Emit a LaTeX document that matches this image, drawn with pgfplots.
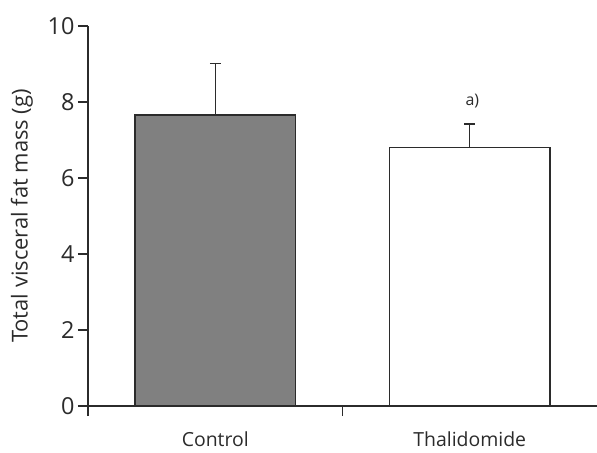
\documentclass[border=0pt]{standalone}
\usepackage{pgfplots}
\pgfplotsset{compat=1.18}
\usepackage{fontspec}
\setmainfont{Open Sans}
\definecolor{axc}{HTML}{2B2B2B}
\definecolor{barg}{HTML}{808080}
\begin{document}
\begin{tikzpicture}
\begin{axis}[
  name=ax,
  scale only axis,
  width=509bp, height=380bp,
  xmin=0.5, xmax=2.5,
  ymin=0, ymax=10,
  axis x line*=bottom, axis y line*=left,
  axis line style={axc, line width=1.3pt, -},
  ytick={0,2,4,6,8,10},
  xtick={0.5,1.5},
  xticklabels={},
  extra x ticks={1,2},
  extra x tick labels={Control,Thalidomide},
  extra x tick style={major tick length=0pt, tick style={draw=none}},
  tick align=outside,
  major tick length=10bp,
  tick style={axc, line width=1.3pt},
  x tick label style={font=\fontsize{19.5}{22}\selectfont, yshift=-22bp, text=axc},
  y tick label style={font=\fontsize{23.5}{26}\selectfont, text=axc},
  /pgf/number format/assume math mode=true,
  ylabel={Total visceral fat mass (g)},
  ylabel style={font=\fontsize{22}{25}\selectfont, text=axc},
  ylabel shift=8bp,
  clip=false,
]
\addplot[ybar, bar width=0.63, bar shift=0pt, fill=barg, draw=axc, line width=1.2pt,
  error bars/.cd, y dir=plus, y explicit,
  error mark options={rotate=90, mark size=5.5bp, line width=1.2pt, axc},
  error bar style={line width=1.2pt, axc}]
  coordinates {(1,7.66) +- (0,1.35)};
\addplot[ybar, bar width=0.63, bar shift=0pt, fill=white, draw=axc, line width=1.2pt,
  error bars/.cd, y dir=plus, y explicit,
  error mark options={rotate=90, mark size=5.5bp, line width=1.2pt, axc},
  error bar style={line width=1.2pt, axc}]
  coordinates {(2,6.80) +- (0,0.62)};
\node[font=\fontsize{16}{18}\selectfont, text=axc] at (axis cs:2.01,8.03) {a)};
\end{axis}
\pgfresetboundingbox
\path[use as bounding box] ([xshift=-88bp,yshift=-47bp]ax.south west) rectangle ([yshift=26bp]ax.north east);
\end{tikzpicture}
\end{document}
